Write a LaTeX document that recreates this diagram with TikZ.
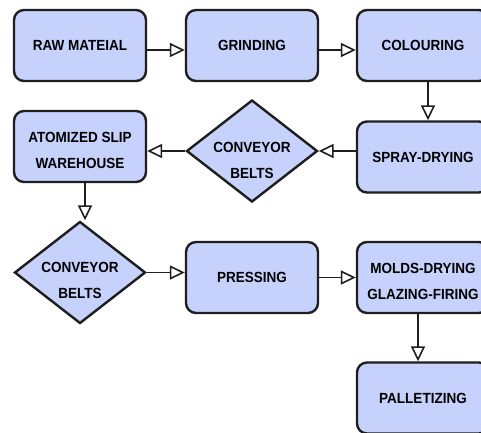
\documentclass[tikz,border=0pt]{standalone}
\usepackage{fontspec}
\newfontfamily\chartfont{Liberation Sans}[FakeStretch=0.92]
\usetikzlibrary{shapes.geometric, arrows.meta}

\definecolor{stepfill}{RGB}{198,210,252}
\definecolor{stepline}{RGB}{30,30,30}

\tikzset{
	labeltext/.style={align=center, font=\chartfont\bfseries\fontsize{14.7}{26}\selectfont},
	stepbox/.style={labeltext, draw=stepline, line width=2.4pt, fill=stepfill, rounded corners=10pt, minimum width=132pt, minimum height=71pt},
	beltbox/.style={diamond, draw=stepline, line width=2.4pt, fill=stepfill, minimum width=131pt, minimum height=102pt, inner sep=0pt},
	flow/.style={line width=1.6pt, draw=stepline, -{Triangle[open, length=15pt, width=14pt]}}
}

\begin{document}
\begin{tikzpicture}[x=1pt, y=-1pt]
		\useasboundingbox (0,0) rectangle (481,432);
		
		% --- Top Row ---
		\node[stepbox] (raw) at (80,45.5) {RAW MATEIAL};
		\node[stepbox] (grind) at (252,45.5) {GRINDING};
		\node[stepbox] (colour) at (423,45.5) {COLOURING};
		
		% --- Second Row ---
		\node[stepbox] (spray) at (423,157) {SPRAY-DRYING};
		\node[beltbox] (belts1) at (252,151) {};
		\node[labeltext] (belts1text) at (252,160) {CONVEYOR\\BELTS};
		\node[stepbox] (slip) at (80,146.5) {\rule{0pt}{18pt}ATOMIZED SLIP\\WAREHOUSE};
		
		% --- Third Row ---
		\node[beltbox] (belts2) at (80,272.5) {};
		\node[labeltext] (belts2text) at (80,280.5) {CONVEYOR\\BELTS};
		\node[stepbox] (press) at (252,277.5) {PRESSING};
		\node[stepbox] (molds) at (423,277.5) {\rule{0pt}{18pt}MOLDS-DRYING\\GLAZING-FIRING};
		
		% --- Last Step ---
		\node[stepbox] (pallet) at (423,398) {PALLETIZING};
		
		% --- Flow Arrows ---
		\draw[flow] ([yshift=-4.5pt]raw.east) -- ([yshift=-4.5pt]grind.west);
		\draw[flow] ([yshift=-4.5pt]grind.east) -- ([yshift=-4.5pt]colour.west);
		\draw[flow] ([xshift=5pt]colour.south) -- ([xshift=5pt]spray.north);
		\draw[flow] (spray.west |- belts1.east) -- (belts1.east);
		\draw[flow] (belts1.west) -- (belts1.west -| slip.east);
		\draw[flow] ([xshift=5pt]slip.south) -- ([xshift=5pt]slip.south |- belts2.north);
		\draw[flow] (belts2.east) -- (belts2.east -| press.west);
		\draw[flow] (press.east) -- (press.east -| molds.west);
		\draw[flow] ([xshift=-5pt]molds.south) -- ([xshift=-5pt]pallet.north);
		
	\end{tikzpicture}
\end{document}
